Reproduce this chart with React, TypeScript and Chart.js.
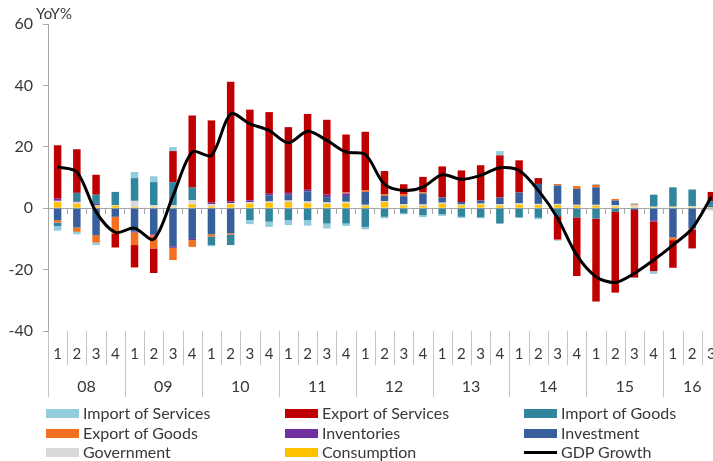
import React, { useEffect, useRef } from "react";
import { Chart, registerables } from "chart.js";

Chart.register(...registerables);

// ---- Data ----
const categories = [
  "08Q1", "08Q2", "08Q3", "08Q4", "09Q1", "09Q2", "09Q3", "09Q4",
  "10Q1", "10Q2", "10Q3", "10Q4", "11Q1", "11Q2", "11Q3", "11Q4",
  "12Q1", "12Q2", "12Q3", "12Q4", "13Q1", "13Q2", "13Q3", "13Q4",
  "14Q1", "14Q2", "14Q3", "14Q4", "15Q1", "15Q2", "15Q3", "15Q4",
  "16Q1", "16Q2", "16Q3",
];
const quarterLabels = [
  "1", "2", "3", "4", "1", "2", "3", "4", "1", "2", "3", "4",
  "1", "2", "3", "4", "1", "2", "3", "4", "1", "2", "3", "4",
  "1", "2", "3", "4", "1", "2", "3", "4", "1", "2", "3",
];
const yearLabels = ["08", "09", "10", "11", "12", "13", "14", "15", "16"];
const yTicks = [-40, -20, 0, 20, 40, 60];

const consumption = [
  2.0, 1.5, 0.6, 0.8, 0.4, 0.3, 0.3, 1.3, 0.6, 1.3, 1.5, 1.8,
  2.0, 1.6, 1.4, 1.6, 0.8, 2.0, 0.9, 0.8, 1.4, 0.9, 1.2, 0.9,
  1.2, 1.0, 1.0, 0.8, 0.8, 0.5, 0.3, 0.3, 0.3, 0.3, 0.3,
];
const government = [
  0.4, 0.4, 0.3, 0.2, 2.0, 0.7, 0.6, 1.3, 0.7, 0.4, 0.5, 0.4,
  0.5, 0.6, 0.5, 0.5, 0.3, 0.3, 0.4, 0.4, 0.4, 0.3, 0.3, 0.4,
  0.4, 0.4, 0.4, 0.3, 0.3, 0.5, 0.6, 0.2, 0.2, 0.3, -0.8,
];
const investment = [
  -3.9, -6.3, -8.8, -2.8, -7.6, -8.5, -12.4, -10.0, -8.5, -8.2, 0.0, 2.0,
  1.9, 3.3, 1.7, 1.9, 4.2, 1.8, 2.6, 3.6, 1.7, 0.8, 1.0, 2.2,
  3.5, 6.5, 6.0, 5.2, 5.7, 1.5, -0.6, -3.9, -9.5, -6.6, 0.5,
];
const inventories = [
  0.7, 0.2, 0.5, 0.0, -0.3, -0.3, -0.5, -0.4, 0.5, 0.5, 0.6, 0.5,
  0.6, 0.5, 0.8, 0.8, 0.0, 0.0, 0.0, 0.0, 0.0, 0.0, 0.0, 0.0,
  0.0, 0.0, 0.0, 0.0, 0.0, 0.0, 0.0, -0.4, 0.0, 0.0, 0.0,
];
const exportGoods = [
  -0.8, -1.4, -2.4, -5.4, -4.1, -4.3, -4.0, -2.2, -0.7, -0.4, 0.0, 0.0,
  0.0, 0.0, 0.0, 0.3, 0.5, 0.5, 0.7, 0.4, 0.0, 0.0, 0.0, 0.0,
  0.0, 0.0, 0.5, 0.9, 0.8, 0.5, 0.4, 0.0, -0.9, -0.5, 0.0,
];
const importGoods = [
  -1.1, 2.9, 3.0, 4.3, 7.4, 7.5, 7.6, 4.1, -2.8, -3.4, -3.9, -4.4,
  -3.9, -3.9, -5.0, -5.0, -6.1, -2.8, -1.7, -2.3, -2.0, -2.8, -3.0, -5.0,
  -3.0, -3.1, -2.6, -3.0, -3.4, -1.2, 0.0, 3.9, 6.3, 5.5, 1.5,
];
const exportServices = [
  17.4, 14.2, 6.5, -4.6, -7.3, -8.0, 10.1, 23.5, 26.8, 39.0, 29.5, 26.6,
  21.4, 24.7, 24.4, 18.9, 19.1, 7.5, 3.2, 5.0, 10.1, 10.3, 11.5, 13.7,
  10.5, 1.9, -7.6, -19.1, -27.0, -26.3, -22.0, -16.2, -9.0, -6.0, 3.0,
];
const importServices = [
  -1.5, -0.8, -0.8, 0.0, 2.0, 1.9, 1.3, 0.0, -0.4, 0.0, -1.3, -1.7,
  -1.6, -1.8, -1.6, -0.8, -0.8, -0.5, -0.3, -0.6, -0.5, -0.4, -0.3, 1.4,
  -0.2, -0.5, -0.4, 0.0, 0.3, 0.0, 0.3, -0.9, 0.0, 0.0, 0.0,
];
const gdpGrowth = [
  13.4, 11.8, -1.2, -7.9, -6.5, -10.1, 4.0, 18.3, 17.2, 30.7, 27.5, 25.3,
  21.3, 25.1, 22.1, 18.3, 17.5, 7.8, 5.8, 6.9, 10.9, 9.4, 10.7, 13.2,
  12.3, 5.8, -3.2, -15.3, -22.3, -24.2, -21.2, -16.9, -12.0, -6.6, 3.7,
];

// ---- Styling ----
const FONT = "Lato, 'Open Sans', sans-serif";
const TEXT = "#383838";
const AXIS = "#A6A6A6";

const barSeries = [
  { label: "Consumption", data: consumption, color: "#FFC000" },
  { label: "Government", data: government, color: "#D9D9D9" },
  { label: "Investment", data: investment, color: "#375F9B" },
  { label: "Inventories", data: inventories, color: "#7030A0" },
  { label: "Export of Goods", data: exportGoods, color: "#F37021" },
  { label: "Import of Goods", data: importGoods, color: "#31859C" },
  { label: "Export of Services", data: exportServices, color: "#C00000" },
  { label: "Import of Services", data: importServices, color: "#93CDDD" },
];

const legendOrder = [
  "Import of Services", "Export of Services", "Import of Goods",
  "Export of Goods", "Inventories", "Investment",
  "Government", "Consumption", "GDP Growth",
];

const axisLabelsPlugin = {
  id: "axisLabels",
  afterDraw(chart: any) {
    const { ctx, chartArea } = chart;
    const xs = chart.scales.x;
    const n = categories.length;
    const half = (xs.getPixelForValue(1) - xs.getPixelForValue(0)) / 2;
    const bottom = chartArea.bottom;
    ctx.save();
    ctx.strokeStyle = "#C4C4C4";
    ctx.lineWidth = 1;
    for (let i = 0; i <= n; i++) {
      const bx =
        Math.round(
          i < n ? xs.getPixelForValue(i) - half : xs.getPixelForValue(n - 1) + half
        ) + 0.5;
      const len = i % 4 === 0 ? 66 : 34;
      ctx.beginPath();
      ctx.moveTo(bx, bottom);
      ctx.lineTo(bx, bottom + len);
      ctx.stroke();
    }
    ctx.fillStyle = TEXT;
    ctx.textAlign = "center";
    ctx.textBaseline = "middle";
    ctx.font = `15px ${FONT}`;
    quarterLabels.forEach((q, i) => {
      ctx.fillText(q, xs.getPixelForValue(i), bottom + 23);
    });
    ctx.font = `16px ${FONT}`;
    yearLabels.forEach((y, k) => {
      const first = k * 4;
      const last = Math.min(k * 4 + 3, n - 1);
      const cx = (xs.getPixelForValue(first) + xs.getPixelForValue(last)) / 2;
      ctx.fillText(y, cx, bottom + 56);
    });
    ctx.textAlign = "left";
    ctx.font = `15px ${FONT}`;
    ctx.fillText("YoY%", 36, 14);
    ctx.restore();
  },
};

export default function App() {
  const canvasRef = useRef<HTMLCanvasElement | null>(null);

  useEffect(() => {
    if (!canvasRef.current) return;
    const chart = new Chart(canvasRef.current, {
      type: "bar",
      data: {
        labels: categories,
        datasets: [
          {
            type: "line" as const,
            label: "GDP Growth",
            data: gdpGrowth,
            borderColor: "#000000",
            backgroundColor: "#000000",
            borderWidth: 3,
            pointRadius: 0,
            tension: 0.3,
            order: -1,
            stack: "gdp",
          },
          ...barSeries.map((s) => ({
            type: "bar" as const,
            label: s.label,
            data: s.data,
            backgroundColor: s.color,
            borderWidth: 0,
            barPercentage: 0.39,
            categoryPercentage: 1,
            stack: "components",
          })),
        ] as any,
      },
      options: {
        responsive: false,
        animation: false,
        layout: { padding: { top: 24, right: 9, bottom: 74, left: 0 } },
        plugins: {
          legend: { display: false },
          tooltip: { enabled: false },
          title: { display: false },
        },
        scales: {
          x: {
            type: "category",
            stacked: true,
            offset: true,
            position: { y: 0 } as any,
            grid: {
              drawOnChartArea: false,
              drawTicks: true,
              tickLength: 5,
              offset: true,
              color: AXIS,
            },
            border: { display: true, color: AXIS, width: 1 },
            ticks: { display: false },
          },
          y: {
            stacked: true,
            min: -40,
            max: 60,
            afterBuildTicks: (scale: any) => {
              scale.ticks = yTicks.map((v) => ({ value: v }));
            },
            afterFit: (scale: any) => {
              scale.width = 48;
            },
            grid: {
              drawOnChartArea: false,
              drawTicks: true,
              tickLength: 5,
              color: AXIS,
            },
            border: { display: true, color: AXIS, width: 1 },
            ticks: {
              padding: 10,
              color: TEXT,
              font: { family: FONT, size: 16 },
            },
          },
        },
      },
      plugins: [axisLabelsPlugin],
    });
    return () => chart.destroy();
  }, []);

  const colX = [46, 285, 524];
  const rowY = [413, 433, 452];
  const colorOf = (name: string) =>
    barSeries.find((s) => s.label === name)?.color ?? "#000000";

  return (
    <div
      style={{
        position: "fixed",
        left: 0,
        top: 0,
        width: 713,
        height: 461,
        overflow: "hidden",
        background: "#ffffff",
      }}
    >
      <canvas
        ref={canvasRef}
        width={730}
        height={405}
        style={{ position: "absolute", left: 0, top: 0 }}
      />
      {legendOrder.map((name, idx) => {
        const col = idx % 3;
        const row = Math.floor(idx / 3);
        const isLine = name === "GDP Growth";
        return (
          <div key={name}>
            <div
              style={{
                position: "absolute",
                left: colX[col],
                top: isLine ? rowY[row] - 1.5 : rowY[row] - 4.5,
                width: 33,
                height: isLine ? 3 : 9,
                background: colorOf(name),
              }}
            />
            <div
              style={{
                position: "absolute",
                left: colX[col] + 37,
                top: rowY[row] - 10,
                height: 20,
                lineHeight: "20px",
                fontFamily: FONT,
                fontSize: 16,
                color: TEXT,
                whiteSpace: "nowrap",
              }}
            >
              {name}
            </div>
          </div>
        );
      })}
    </div>
  );
}
